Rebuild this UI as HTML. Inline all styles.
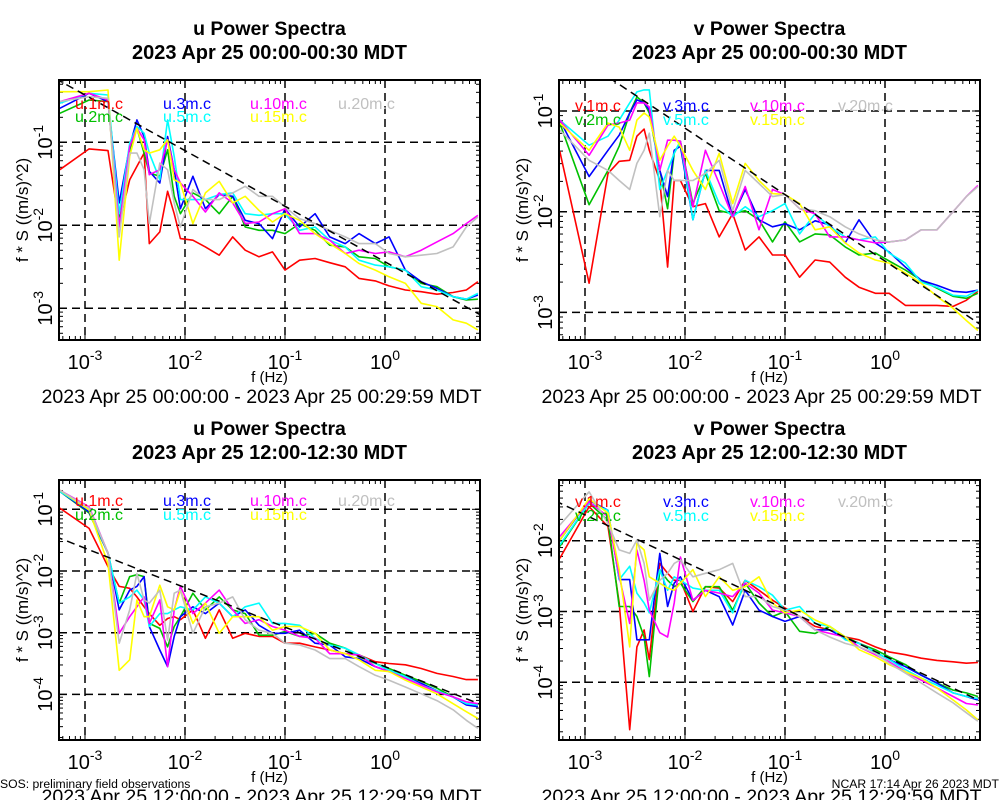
<!DOCTYPE html>
<html><head><meta charset="utf-8"><style>
html,body{margin:0;padding:0;background:#fff;}
svg{display:block;font-family:"Liberation Sans",sans-serif;}
</style></head><body>
<svg id="chart" width="1000" height="800" viewBox="0 0 1000 800" xmlns="http://www.w3.org/2000/svg"></svg>
<script>
// Shared frequency axis (Hz)
const freqs = [5.6e-4,1.1e-3,1.7e-3,2.2e-3,2.8e-3,3.3e-3,3.9e-3,4.4e-3,5.6e-3,6.7e-3,7.8e-3,9e-3,0.012,0.016,0.022,0.03,0.04,0.055,0.075,0.1,0.14,0.2,0.28,0.4,0.55,0.8,1.1,1.6,2.3,3.3,4.8,6.5,8.5];
const heights = ["1m","2m","3m","5m","10m","15m","20m"];
const colors = ["#ff0000","#00c000","#0000ff","#00ffff","#ff00ff","#ffff00","#c0c0c0"];
const xTickExps = [-3,-2,-1,0];

// log10(f*S) values, panel: u 00:00
const uA1 = [-1.33,-1.08,-1.10,-1.98,-1.45,-1.29,-1.13,-2.22,-2.08,-1.59,-1.86,-2.16,-2.18,-2.26,-2.36,-2.14,-2.30,-2.38,-2.32,-2.54,-2.42,-2.40,-2.45,-2.50,-2.64,-2.67,-2.73,-2.78,-2.80,-2.83,-2.81,-2.78,-2.68];
const uA2 = [-0.65,-0.49,-0.51,-1.90,-1.09,-0.83,-1.13,-1.37,-1.41,-1.09,-1.65,-1.86,-1.61,-1.69,-1.86,-1.65,-2.02,-2.06,-2.06,-2.10,-1.98,-2.06,-2.24,-2.26,-2.38,-2.40,-2.50,-2.54,-2.70,-2.74,-2.86,-2.90,-2.89];
const uA3 = [-0.59,-0.41,-0.51,-1.73,-1.05,-0.73,-0.93,-1.35,-1.49,-0.93,-1.33,-1.80,-1.41,-1.80,-1.63,-1.65,-1.94,-1.98,-2.16,-1.80,-2.02,-1.86,-2.14,-2.22,-2.10,-2.22,-2.14,-2.54,-2.68,-2.76,-2.86,-2.89,-2.84];
const uA5 = [-0.53,-0.41,-0.43,-1.86,-1.01,-0.81,-0.89,-1.13,-1.45,-0.73,-1.17,-1.69,-1.69,-1.69,-1.63,-1.61,-1.86,-1.88,-1.86,-1.86,-2.06,-2.02,-2.18,-2.26,-2.42,-2.48,-2.50,-2.54,-2.74,-2.78,-2.86,-2.89,-2.82];
const uA10 = [-0.51,-0.41,-0.49,-2.02,-1.05,-0.83,-0.97,-1.39,-1.33,-0.97,-1.33,-1.49,-1.65,-1.84,-1.61,-1.73,-1.98,-1.96,-1.86,-1.80,-2.10,-2.10,-2.18,-2.34,-2.30,-2.34,-2.32,-2.38,-2.30,-2.20,-2.10,-1.98,-1.88];
const uA15 = [-0.39,-0.39,-0.37,-2.42,-1.17,-0.83,-1.09,-1.13,-1.09,-0.97,-1.45,-1.49,-1.98,-1.61,-1.47,-1.73,-1.65,-1.82,-1.96,-1.86,-1.94,-2.10,-2.22,-2.34,-2.46,-2.54,-2.62,-2.70,-2.94,-2.98,-3.14,-3.18,-3.26];
const uA20 = [-0.51,-0.45,-0.47,-2.14,-1.13,-1.13,-1.33,-1.98,-1.25,-1.33,-1.73,-2.02,-1.57,-1.69,-1.69,-1.61,-1.53,-1.65,-1.65,-1.78,-1.92,-1.98,-2.06,-2.14,-2.22,-2.22,-2.34,-2.38,-2.36,-2.34,-2.26,-2.02,-1.90];
// panel: v 00:00
const vA1 = [-1.40,-2.71,-1.62,-1.50,-1.49,-1.25,-1.18,-1.39,-1.69,-2.55,-1.69,-1.69,-1.95,-1.92,-2.25,-2.02,-2.38,-2.25,-2.43,-2.43,-2.65,-2.48,-2.50,-2.65,-2.75,-2.81,-2.81,-2.93,-2.93,-2.93,-2.94,-2.88,-2.79];
const vA2 = [-1.12,-1.93,-1.59,-1.35,-1.02,-0.86,-0.92,-1.02,-1.59,-1.97,-1.42,-1.30,-1.92,-1.62,-1.99,-2.02,-1.99,-2.08,-2.30,-2.10,-2.30,-2.22,-2.23,-2.35,-2.43,-2.41,-2.49,-2.58,-2.68,-2.76,-2.84,-2.86,-2.81];
const vA3 = [-1.09,-1.65,-1.39,-1.24,-1.02,-0.89,-0.92,-0.99,-1.59,-1.85,-1.39,-1.35,-2.08,-1.59,-1.59,-2.05,-1.78,-2.08,-2.15,-2.12,-2.18,-2.09,-2.13,-2.31,-2.08,-2.31,-2.40,-2.55,-2.68,-2.73,-2.79,-2.80,-2.78];
const vA5 = [-1.09,-1.34,-1.25,-1.09,-0.92,-0.81,-0.79,-0.79,-1.78,-1.59,-1.42,-1.30,-2.08,-1.59,-1.92,-2.05,-1.95,-2.05,-1.99,-1.92,-2.22,-2.02,-2.15,-2.25,-2.28,-2.25,-2.41,-2.51,-2.70,-2.75,-2.83,-2.84,-2.78];
const vA10 = [-1.09,-1.44,-1.14,-1.12,-1.09,-0.92,-0.92,-0.96,-1.59,-1.29,-1.29,-1.30,-1.95,-1.39,-1.72,-2.05,-1.75,-2.18,-1.78,-1.83,-1.97,-2.02,-2.25,-2.25,-2.28,-2.31,-2.30,-2.28,-2.18,-2.18,-2.00,-1.85,-1.74];
const vA15 = [-1.12,-1.39,-1.12,-1.16,-1.39,-1.09,-1.02,-1.06,-1.49,-1.35,-1.25,-1.35,-1.59,-1.78,-1.42,-1.92,-1.52,-1.69,-1.82,-1.83,-1.92,-2.18,-2.15,-2.31,-2.41,-2.48,-2.51,-2.61,-2.71,-2.84,-2.96,-3.08,-3.18];
const vA20 = [-1.19,-1.49,-1.59,-1.69,-1.78,-1.52,-1.39,-1.22,-2.05,-1.59,-1.69,-1.69,-1.69,-1.62,-1.49,-1.99,-1.59,-1.72,-1.85,-1.83,-1.97,-1.99,-2.05,-2.15,-2.22,-2.28,-2.30,-2.28,-2.18,-2.18,-2.00,-1.85,-1.75];
// panel: u 12:00
const uB1 = [-0.98,-1.31,-1.93,-2.25,-2.28,-2.42,-2.58,-2.69,-2.88,-2.77,-2.74,-2.79,-2.63,-3.09,-2.63,-3.09,-3.01,-3.06,-3.06,-3.17,-3.17,-3.23,-3.28,-3.34,-3.36,-3.47,-3.50,-3.52,-3.58,-3.66,-3.71,-3.76,-3.76];
const uB2 = [-0.71,-1.06,-1.71,-2.52,-2.09,-2.06,-2.09,-2.85,-2.93,-3.23,-2.90,-2.74,-2.36,-2.63,-2.42,-2.63,-2.69,-3.04,-3.04,-2.98,-3.06,-3.01,-3.17,-3.25,-3.39,-3.50,-3.58,-3.69,-3.79,-3.90,-4.04,-4.15,-4.17];
const uB3 = [-0.71,-1.04,-1.71,-2.63,-2.31,-2.25,-2.09,-2.90,-3.28,-3.55,-3.06,-2.74,-2.58,-2.69,-2.52,-2.74,-2.63,-2.88,-3.01,-3.01,-2.96,-3.17,-3.20,-3.39,-3.42,-3.55,-3.63,-3.71,-3.82,-3.94,-4.04,-4.17,-4.20];
const uB5 = [-0.71,-1.01,-1.71,-2.52,-2.42,-2.31,-2.47,-2.90,-2.69,-2.69,-2.63,-2.58,-2.63,-2.42,-2.52,-2.74,-2.58,-2.52,-2.85,-2.85,-2.88,-3.09,-3.20,-3.25,-3.36,-3.50,-3.61,-3.71,-3.85,-3.94,-4.04,-4.15,-4.17];
const uB10 = [-0.69,-0.96,-1.71,-3.01,-2.74,-2.58,-2.42,-2.85,-2.47,-3.55,-2.63,-2.25,-2.69,-2.52,-2.31,-2.63,-2.85,-2.79,-2.90,-2.96,-3.06,-3.09,-3.34,-3.34,-3.36,-3.55,-3.63,-3.74,-3.85,-3.96,-4.04,-4.12,-4.15];
const uB15 = [-0.69,-1.01,-1.88,-3.61,-3.44,-2.47,-2.74,-2.74,-2.23,-2.58,-2.63,-2.31,-2.85,-2.52,-3.01,-2.74,-2.74,-2.74,-2.96,-2.90,-2.90,-3.01,-3.28,-3.34,-3.44,-3.61,-3.63,-3.77,-3.88,-3.99,-4.15,-4.28,-4.39];
const uB20 = [-0.69,-0.98,-1.71,-3.17,-2.63,-2.04,-2.47,-2.52,-2.31,-3.12,-2.36,-2.31,-3.01,-2.58,-2.52,-2.42,-2.79,-2.96,-3.01,-3.17,-3.20,-3.28,-3.42,-3.42,-3.55,-3.69,-3.77,-3.88,-3.99,-4.10,-4.25,-4.42,-4.55];
// panel: v 12:00
const vB1 = [-2.25,-1.52,-1.80,-2.88,-4.67,-3.50,-3.26,-3.68,-2.32,-2.46,-2.56,-2.56,-3.00,-2.65,-2.67,-2.86,-2.56,-2.70,-2.84,-2.95,-3.07,-3.21,-3.26,-3.36,-3.40,-3.50,-3.57,-3.61,-3.66,-3.69,-3.71,-3.73,-3.72];
const vB2 = [-2.08,-1.47,-1.71,-2.93,-2.93,-3.07,-3.36,-3.92,-2.41,-2.56,-2.65,-2.60,-2.86,-2.65,-2.65,-2.98,-2.60,-2.88,-3.07,-3.00,-3.28,-3.31,-3.21,-3.36,-3.45,-3.54,-3.64,-3.75,-3.90,-4.01,-4.11,-4.15,-4.20];
const vB3 = [-1.99,-1.43,-1.57,-2.55,-2.55,-3.40,-3.40,-3.40,-2.18,-2.93,-2.60,-2.51,-2.84,-2.70,-2.79,-3.19,-2.70,-2.98,-3.07,-3.14,-3.07,-3.26,-3.26,-3.38,-3.45,-3.57,-3.68,-3.78,-3.90,-4.01,-4.15,-4.20,-4.25];
const vB5 = [-2.06,-1.47,-1.57,-2.55,-2.36,-2.74,-2.88,-3.02,-2.41,-2.70,-2.51,-2.56,-2.67,-2.70,-2.70,-3.02,-2.56,-2.65,-2.77,-2.98,-2.93,-3.17,-3.21,-3.40,-3.45,-3.57,-3.68,-3.82,-3.94,-4.04,-4.15,-4.20,-4.23];
const vB10 = [-1.94,-1.45,-1.66,-2.50,-3.17,-2.13,-2.56,-2.98,-3.30,-3.36,-2.88,-2.23,-2.84,-2.70,-2.74,-2.79,-2.60,-2.74,-2.98,-3.02,-3.07,-3.26,-3.31,-3.36,-3.50,-3.61,-3.71,-3.85,-3.97,-4.08,-4.20,-4.30,-4.32];
const vB15 = [-1.99,-1.41,-1.61,-2.41,-3.50,-2.04,-2.13,-2.51,-2.60,-2.67,-2.70,-2.60,-2.41,-2.79,-2.51,-2.70,-2.65,-2.51,-2.88,-3.02,-2.98,-3.12,-3.21,-3.36,-3.54,-3.64,-3.75,-3.85,-3.94,-4.08,-4.25,-4.39,-4.53];
const vB20 = [-1.78,-1.31,-1.76,-2.13,-2.18,-1.99,-2.32,-2.84,-2.56,-2.46,-2.32,-2.27,-2.51,-2.46,-2.41,-2.32,-2.79,-2.79,-2.93,-2.98,-3.07,-3.26,-3.36,-3.45,-3.50,-3.59,-3.73,-3.87,-4.01,-4.15,-4.29,-4.43,-4.55];

// Reference -2/3 lines: log10 level at f=1 Hz, slope
const refLevels = [-2.44,-2.49,-3.55,-3.63];
const refSlopes = [-0.67,-0.66,-0.64,-0.665];
// Y tick exponents per panel
const yTicksTL = [-1,-2,-3];
const yTicksTR = [-1,-2,-3];
const yTicksBL = [-1,-2,-3,-4];
const yTicksBR = [-2,-3,-4];

const panels = [
 {name:"u-power-top", comp:"u", title:"u Power Spectra", sub:"2023 Apr 25 00:00-00:30 MDT", range:"2023 Apr 25 00:00:00 - 2023 Apr 25 00:29:59 MDT",
  x0:59,y0:80, y1ref:-1, y1pix:142.3, ppd:83, yt:yTicksTL, series:[uA1,uA2,uA3,uA5,uA10,uA15,uA20], leg:[109,122]},
 {name:"v-power-top", comp:"v", title:"v Power Spectra", sub:"2023 Apr 25 00:00-00:30 MDT", range:"2023 Apr 25 00:00:00 - 2023 Apr 25 00:29:59 MDT",
  x0:559,y0:80, y1ref:-1, y1pix:111, ppd:100.7, yt:yTicksTR, series:[vA1,vA2,vA3,vA5,vA10,vA15,vA20], leg:[111,125]},
 {name:"u-power-bottom", comp:"u", title:"u Power Spectra", sub:"2023 Apr 25 12:00-12:30 MDT", range:"2023 Apr 25 12:00:00 - 2023 Apr 25 12:29:59 MDT",
  x0:59,y0:480, y1ref:-1, y1pix:509.3, ppd:61.7, yt:yTicksBL, series:[uB1,uB2,uB3,uB5,uB10,uB15,uB20], leg:[506,520]},
 {name:"v-power-bottom", comp:"v", title:"v Power Spectra", sub:"2023 Apr 25 12:00-12:30 MDT", range:"2023 Apr 25 12:00:00 - 2023 Apr 25 12:29:59 MDT",
  x0:559,y0:480, y1ref:-2, y1pix:540.7, ppd:70.8, yt:yTicksBR, series:[vB1,vB2,vB3,vB5,vB10,vB15,vB20], leg:[507,521]}
];

const NS="http://www.w3.org/2000/svg";
const svg=document.getElementById('chart');
function mk(tag,attrs,parent){const e=document.createElementNS(NS,tag);for(const k in attrs)e.setAttribute(k,attrs[k]);(parent||svg).appendChild(e);return e;}
const W=421,H=260;

panels.forEach((p,pi)=>{
  const g=mk('g',{});
  
  
  const xS=lf=>p.x0+26+100*(lf+3);
  const yS=ly=>p.y1pix-(ly-p.y1ref)*p.ppd;
  const cx=p.x0+W/2;
  // titles
  const t1=mk('text',{x:cx,y:p.y0-45,'text-anchor':'middle','font-size':19.5,'font-weight':'bold'},g);t1.textContent=p.title;
  
  
  const t2=mk('text',{x:cx,y:p.y0-21,'text-anchor':'middle','font-size':20,'font-weight':'bold'},g);t2.textContent=p.sub;
  
  
  // clip
  const cp=mk('clipPath',{id:'clip'+pi},g);mk('rect',{x:p.x0,y:p.y0,width:W,height:H},cp);
  // grid
  const grid=mk('g',{stroke:'#000','stroke-width':1.5,'stroke-dasharray':'8,5'},g);
  
  
  xTickExps.forEach(e=>{const x=xS(e);mk('line',{x1:x,x2:x,y1:p.y0,y2:p.y0+H},grid);});
  p.yt.forEach(e=>{const y=yS(e);mk('line',{x1:p.x0,x2:p.x0+W,y1:y,y2:y},grid);});
  // minor ticks
  const ticks=mk('g',{stroke:'#000','stroke-width':1},g);
  for(let d=-4;d<=1;d++)for(let m=1;m<10;m++){const lf=d+Math.log10(m);const x=xS(lf);if(x<p.x0+1||x>p.x0+W-1)continue;const L=m==1?8:4;
    mk('line',{x1:x,x2:x,y1:p.y0+H,y2:p.y0+H-L},ticks);mk('line',{x1:x,x2:x,y1:p.y0,y2:p.y0+L},ticks);}
  for(let d=-6;d<=1;d++)for(let m=1;m<10;m++){const ly=d+Math.log10(m);const y=yS(ly);if(y<p.y0+1||y>p.y0+H-1)continue;const L=m==1?8:4;
    mk('line',{x1:p.x0,x2:p.x0+L,y1:y,y2:y},ticks);mk('line',{x1:p.x0+W,x2:p.x0+W-L,y1:y,y2:y},ticks);}
  // series
  const sg=mk('g',{'clip-path':'url(#clip'+pi+')',fill:'none','stroke-width':1.6,'stroke-linejoin':'round'},g);
  p.series.forEach((vals,si)=>{
    const d=vals.map((v,i)=>(i?'L':'M')+xS(Math.log10(freqs[i])).toFixed(1)+','+yS(v).toFixed(1)).join('');
    const path=mk('path',{d:d,stroke:colors[si]},sg);
    
    
  });
  // reference line
  const lfa=-3.3, lfb=1.0;
  const ref=mk('line',{x1:xS(lfa),y1:yS(refLevels[pi]+refSlopes[pi]*lfa),x2:xS(lfb),y2:yS(refLevels[pi]+refSlopes[pi]*lfb),stroke:'#000','stroke-width':1.5,'stroke-dasharray':'8,5'},sg);
  
  
  // frame
  const fr=mk('rect',{x:p.x0,y:p.y0,width:W,height:H,fill:'none',stroke:'#000','stroke-width':2},g);
  
  
  // legend
  const lx=[p.x0+16,p.x0+104,p.x0+191,p.x0+279];
  const order=[[0,0,0],[1,0,1],[2,1,0],[3,1,1],[4,2,0],[5,2,1],[6,3,0]];
  order.forEach(o=>{const t=mk('text',{x:lx[o[1]],y:p.leg[o[2]],'font-size':16,fill:colors[o[0]]},g);t.textContent=p.comp+'.'+heights[o[0]]+'.c';
    
    });
  // x tick labels
  xTickExps.forEach(e=>{const t=mk('text',{x:xS(e),y:p.y0+H+29,'text-anchor':'middle','font-size':20},g);
    
    
    t.appendChild(document.createTextNode('10'));const s=mk('tspan',{'font-size':14,dy:-9},t);s.textContent=String(e);});
  // y tick labels (rotated)
  p.yt.forEach(e=>{const y=yS(e);const t=mk('text',{transform:'translate('+(p.x0-7)+','+y+') rotate(-90)','text-anchor':'middle','font-size':20},g);
    
    
    t.appendChild(document.createTextNode('10'));const s=mk('tspan',{'font-size':14,dy:-9},t);s.textContent=String(e);});
  // axis titles
  const xt=mk('text',{x:cx,y:p.y0+H+42,'text-anchor':'middle','font-size':15},g);xt.textContent='f (Hz)';
  
  
  const yt=mk('text',{transform:'translate('+(p.x0-31)+','+(p.y0+130)+') rotate(-90)','text-anchor':'middle','font-size':17},g);yt.textContent='f * S ((m/s)^2)';
  
  
  const rt=mk('text',{x:cx-8,y:p.y0+H+63,'text-anchor':'middle','font-size':19.6},g);rt.textContent=p.range;
  
  
});
const f1=mk('text',{x:0,y:788,'font-size':12.2});f1.textContent='SOS: preliminary field observations';


const f2=mk('text',{x:999,y:788,'font-size':12.2,'text-anchor':'end'});f2.textContent='NCAR 17:14 Apr 26 2023 MDT';


</script>
</body></html>
